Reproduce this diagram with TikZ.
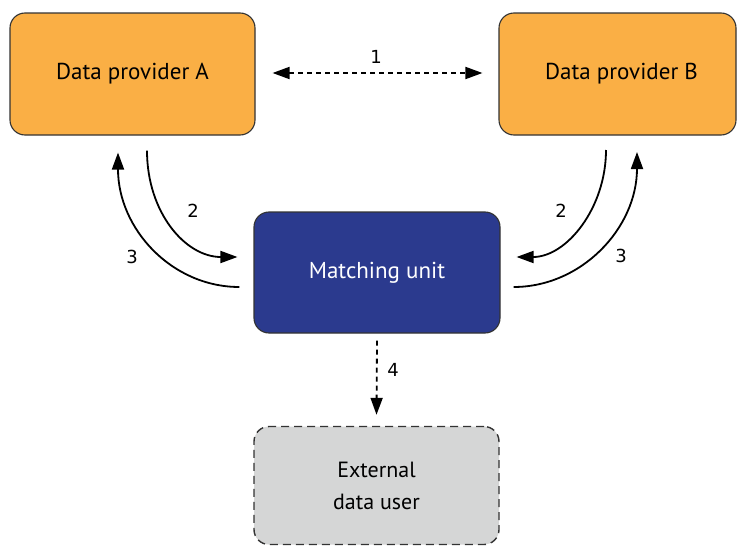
\documentclass[tikz,border=0pt]{standalone}
\usepackage{fontspec}
\setmainfont{PT Sans}
\newfontfamily\numfont{DejaVu Sans}
\usetikzlibrary{arrows.meta,calc}
\definecolor{provorange}{HTML}{FAAF45}
\definecolor{matchblue}{HTML}{2B3A8E}
\definecolor{usergray}{HTML}{D5D6D6}
\definecolor{edgegray}{HTML}{333333}
\begin{document}
\begin{tikzpicture}[x=1pt,y=-1pt,
  boxbase/.style={rounded corners=15pt, line width=1.1pt, draw=edgegray, align=center, inner sep=0pt},
  provbox/.style={boxbase, fill=provorange, text=black, font=\fontsize{23}{28}\selectfont},
  matchbox/.style={boxbase, fill=matchblue, text=white, font=\fontsize{23}{28}\selectfont},
  userbox/.style={boxbase, fill=usergray, text=black, dash pattern=on 8pt off 5pt, line width=1.4pt, font=\fontsize{22}{32}\selectfont},
  tip/.style={Triangle[length=17pt,width=12pt]},
  flow/.style={line width=1.8pt, -{Triangle[length=17pt,width=12pt]}},
  dotline/.style={line width=1.8pt, dash pattern=on 5pt off 4pt},
  numlabel/.style={font=\numfont\fontsize{18}{20}\selectfont, inner sep=0pt}
]
\useasboundingbox (0,0) rectangle (737,546);

\node[provbox, minimum width=245pt, minimum height=122pt] (A) at (132.5,74) {Data provider A};
\node[provbox, minimum width=237pt, minimum height=122pt] (B) at (617.5,74) {\hspace*{8pt}Data provider B};
\node[matchbox, minimum width=246pt, minimum height=121pt] (M) at (377,272.5) {Matching unit};
\node[userbox, minimum width=245pt, minimum height=118pt] (E) at (376.5,485.5) {External\\data user};

% arrow 1
\draw[dotline, {Triangle[length=17pt,width=12pt]}-{Triangle[length=17pt,width=12pt]}]
  ([xshift=17pt,yshift=1pt]A.east) -- ([xshift=-16pt,yshift=1pt]B.west);
\node[numlabel] (l1) at (376,57) {1};

% arrow 4
\draw[dotline, -{Triangle[length=17pt,width=12pt]}]
  ([yshift=-7pt]M.south) -- ([yshift=11pt]E.north);
\node[numlabel] (l4) at (393,370) {4};

% left curves
\coordinate (a2s) at ($(A.south)+(14.5,15)$);
\coordinate (a2e) at ($(M.west)+(-16,-15.5)$);
\coordinate (a3s) at ($(M.west)+(-14,14.5)$);
\coordinate (a3e) at ($(A.south)+(-14.5,17)$);
\draw[flow] (a2s) .. controls ($(a2s)+(0,62)$) and ($(a2e)+(-52,0)$) .. (a2e);
\draw[flow] (a3s) .. controls ($(a3s)+(-68,0)$) and ($(a3e)+(0,76)$) .. (a3e);
\node[numlabel] (l2a) at (193,211) {2};
\node[numlabel] (l3a) at (132,257) {3};

% right curves
\coordinate (b2s) at (606,150);
\coordinate (b2e) at ($(M.east)+(16,-15.5)$);
\coordinate (b3s) at ($(M.east)+(13,14.5)$);
\coordinate (b3e) at (637,152);
\draw[flow] (b2s) .. controls ($(b2s)+(0,58)$) and ($(b2e)+(50,0)$) .. (b2e);
\draw[flow] (b3s) .. controls ($(b3s)+(68,0)$) and ($(b3e)+(0,76)$) .. (b3e);
\node[numlabel] (l2b) at (561,211) {2};
\node[numlabel] (l3b) at (621,256) {3};
\end{tikzpicture}
\end{document}
